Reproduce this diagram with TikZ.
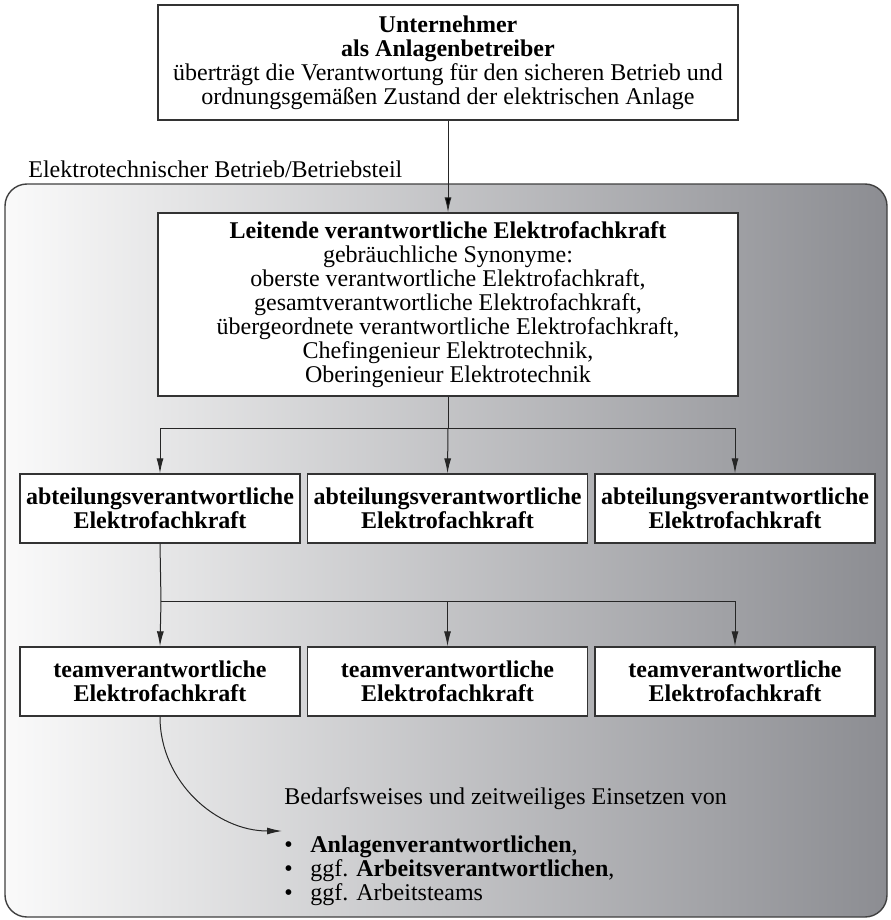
\documentclass[tikz,border=0pt]{standalone}
\usepackage{fontspec}
\setmainfont{Liberation Serif}
\usetikzlibrary{arrows.meta}

\definecolor{hglinks}{RGB}{250,250,250}
\definecolor{hgmitte}{RGB}{200,201,204}
\definecolor{hgrechts}{RGB}{140,141,146}

\newcommand{\schrift}{\fontsize{12}{12}\selectfont}

\tikzset{
    kasten/.style={draw=black!80, fill=white, line width=0.7pt, align=center, inner sep=2pt, font=\schrift},
    stufe/.style={kasten, minimum width=140pt, minimum height=34.5pt, font=\schrift\bfseries},
    pfeil/.style={draw=black!85, line width=0.5pt, -{Latex[length=7.5pt,width=3.5pt]}},
}

\begin{document}
\begin{tikzpicture}[x=0.5pt, y=-0.5pt, font=\schrift]
    \useasboundingbox (0,0) rectangle (890,920);

    \path[draw=black!75, line width=0.7pt, rounded corners=11pt, left color=hglinks, middle color=hgmitte, right color=hgrechts] (5,184) rectangle (887,917);
    \node[anchor=base west, inner sep=0pt] (betrieb) at (28,177) {Elektrotechnischer Betrieb/Betriebsteil};

    \node[kasten, minimum width=290pt, minimum height=57.5pt] (unt) at (448,62.5) {\textbf{Unternehmer}\\ \textbf{als Anlagenbetreiber}\\ überträgt die Verantwortung für den sicheren Betrieb und\\ ordnungsgemäßen Zustand der elektrischen Anlage};
    \node[kasten, minimum width=290pt, minimum height=91.5pt] (lefk) at (448,304.5) {\textbf{Leitende verantwortliche Elektrofachkraft}\\ gebräuchliche Synonyme:\\ oberste verantwortliche Elektrofachkraft,\\ gesamtverantwortliche Elektrofachkraft,\\ übergeordnete verantwortliche Elektrofachkraft,\\ Chefingenieur Elektrotechnik,\\ Oberingenieur Elektrotechnik};

    \node[stufe] (abt1) at (160,508.5) {abteilungsverantwortliche\\ Elektrofachkraft};
    \node[stufe] (abt2) at (447.5,508.5) {abteilungsverantwortliche\\ Elektrofachkraft};
    \node[stufe] (abt3) at (735,508.5) {abteilungsverantwortliche\\ Elektrofachkraft};

    \node[stufe] (team1) at (160,681.5) {teamverantwortliche\\ Elektrofachkraft};
    \node[stufe] (team2) at (447.5,681.5) {teamverantwortliche\\ Elektrofachkraft};
    \node[stufe] (team3) at (735,681.5) {teamverantwortliche\\ Elektrofachkraft};

    % base = Grundlinie der letzten Zeile
    \node[anchor=base west, inner sep=0pt, align=left] (einsatz) at (284,900) {Bedarfsweises und zeitweiliges Einsetzen von\\[12pt]
        \makebox[13pt][l]{\textbullet}\textbf{Anlagenverantwortlichen},\\
        \makebox[13pt][l]{\textbullet}ggf. \textbf{Arbeitsverantwortlichen},\\
        \makebox[13pt][l]{\textbullet}ggf. Arbeitsteams};

    \coordinate (bus1) at (448,428);
    \coordinate (bus2) at (161,601);
    \coordinate (ziel) at (282,831);

    \path[pfeil] (unt) edge (lefk);
    \draw[pfeil] (lefk.south) -- (bus1) -| (abt1.north);
    \draw[pfeil] (bus1) -| (abt3.north);
    \draw[pfeil] (bus1) -- (abt2.north);

    \draw[pfeil] (abt1.south) -- (bus2) -- (team1.north);
    \draw[pfeil] (bus2) -| (team2.north);
    \draw[pfeil] (bus2) -| (team3.north);

    \draw[pfeil] (team1.south) to[out=-90, in=180] (ziel);
\end{tikzpicture}
\end{document}
